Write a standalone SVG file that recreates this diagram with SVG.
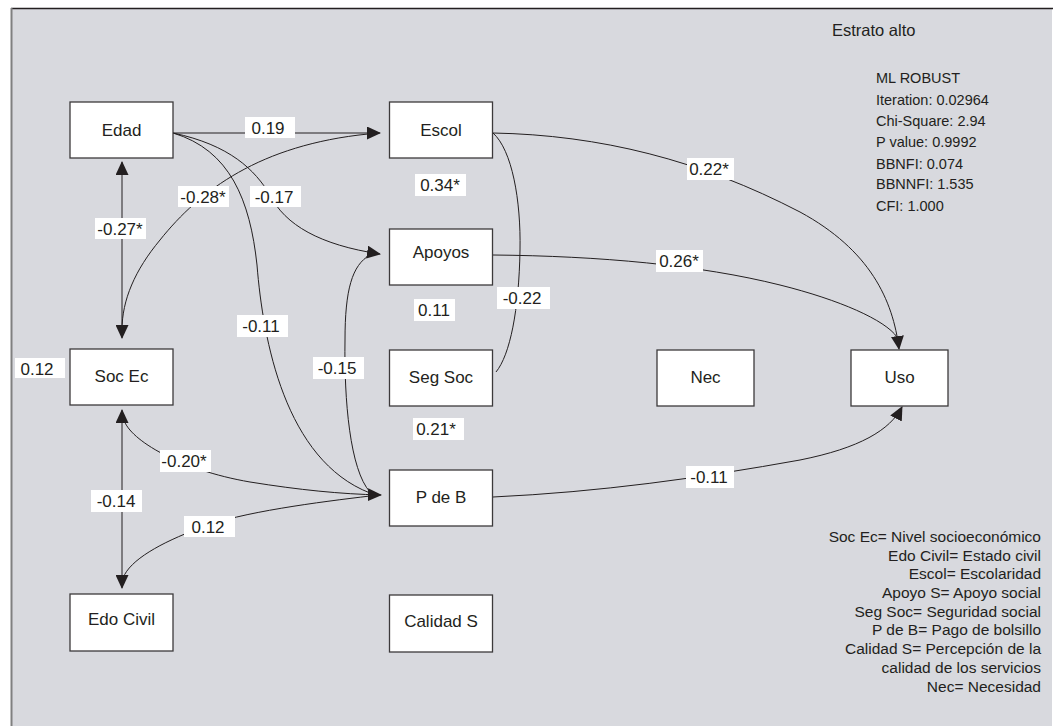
<svg xmlns="http://www.w3.org/2000/svg" width="1053" height="726" viewBox="0 0 1053 726">
<defs>
<marker id="ah" markerUnits="userSpaceOnUse" markerWidth="14" markerHeight="13" refX="13" refY="6.5" orient="auto-start-reverse" viewBox="0 0 14 13">
<path d="M0,0 L14,6.5 L0,13 Z" fill="#231f20"/>
</marker>
<style>
.bg{fill:#d8d9de}
.box rect{fill:#ffffff;stroke:#3c3a3b;stroke-width:1.3}
.box text{font-family:"Liberation Sans",Arial,sans-serif;font-size:17px;fill:#231f20;text-anchor:middle}
.conn path{fill:none;stroke:#231f20;stroke-width:1}
.lbl rect{fill:#ffffff}
.lbl text{font-family:"Liberation Sans",Arial,sans-serif;font-size:17px;fill:#231f20;text-anchor:middle}
.info{font-family:"Liberation Sans",Arial,sans-serif;fill:#231f20}
</style>
</defs>
<rect x="0" y="0" width="1053" height="726" fill="#ffffff"/>
<rect class="bg" x="11" y="8" width="1041" height="718"/>
<line x1="11" y1="8.5" x2="1053" y2="8.5" stroke="#231f20" stroke-width="1.5"/>
<line x1="11.5" y1="8" x2="11.5" y2="726" stroke="#808080" stroke-width="2"/>

<g id="connectors" class="conn">
<path d="M173,133 L380,133" marker-end="url(#ah)"/>
<path d="M122,330 C122,300 135,270 160,240 C200,190 260,145 368,134"/>
<path d="M173,133 C230,145 255,170 270,195 C285,225 320,245 380,254" marker-end="url(#ah)"/>
<path d="M173,133 C230,150 250,200 257,265 C263,340 285,460 370,493"/>
<path d="M370,255 C352,265 345,290 345,340 C344,400 350,470 370,492"/>
<path d="M122,162 L122,338" marker-start="url(#ah)" marker-end="url(#ah)"/>
<path d="M122,410 L122,588" marker-start="url(#ah)" marker-end="url(#ah)"/>
<path d="M124,420 C130,440 180,470 250,482 C300,490 340,494 381,495" marker-end="url(#ah)"/>
<path d="M370,496 C320,502 240,512 200,528 C160,543 130,560 123,578"/>
<path d="M493,133 C600,135 700,160 800,212 C870,250 893,300 899,349" marker-end="url(#ah)"/>
<path d="M493,133 C512,150 521,200 520,250 C519,310 510,355 496,372"/>
<path d="M493,255 C600,256 700,265 780,285 C840,300 885,320 897,337"/>
<path d="M493,497 C600,492 700,478 800,460 C860,448 890,430 902,407" marker-end="url(#ah)"/>
</g>

<g id="node-edad" class="box"><rect x="70" y="102" width="103" height="56"/><text x="121.5" y="136">Edad</text></g>
<g id="node-escol" class="box"><rect x="389.5" y="102" width="103" height="56"/><text x="441" y="136">Escol</text></g>
<g id="node-apoyos" class="box"><rect x="389.5" y="229" width="103" height="56"/><text x="441" y="258">Apoyos</text></g>
<g id="node-segsoc" class="box"><rect x="389.5" y="350" width="103" height="56"/><text x="441" y="383">Seg Soc</text></g>
<g id="node-socec" class="box"><rect x="70" y="349" width="103" height="56"/><text x="121.5" y="382">Soc Ec</text></g>
<g id="node-pdeb" class="box"><rect x="389.5" y="470" width="103" height="56"/><text x="441" y="503">P de B</text></g>
<g id="node-edocivil" class="box"><rect x="70" y="594" width="103" height="57"/><text x="121.5" y="625">Edo Civil</text></g>
<g id="node-calidad" class="box"><rect x="389.5" y="595" width="103" height="57"/><text x="441" y="627">Calidad S</text></g>
<g id="node-nec" class="box"><rect x="657" y="350" width="97" height="56"/><text x="705.5" y="383">Nec</text></g>
<g id="node-uso" class="box"><rect x="851" y="350" width="97" height="56"/><text x="899.5" y="383">Uso</text></g>

<g id="labels" class="lbl">
<rect x="245" y="117" width="50" height="21"/><text x="268" y="134">0.19</text>
<rect x="178" y="186" width="51" height="21"/><text x="203" y="203">-0.28*</text>
<rect x="250" y="186" width="51" height="21"/><text x="274" y="203">-0.17</text>
<rect x="95" y="218" width="51" height="21"/><text x="120" y="235">-0.27*</text>
<rect x="415" y="174" width="51" height="22"/><text x="440" y="191">0.34*</text>
<rect x="414" y="299" width="41" height="22"/><text x="434" y="316">0.11</text>
<rect x="497" y="287" width="53" height="22"/><text x="522" y="304">-0.22</text>
<rect x="237" y="315" width="51" height="22"/><text x="261" y="332">-0.11</text>
<rect x="313" y="357" width="51" height="22"/><text x="337" y="374">-0.15</text>
<rect x="15" y="358" width="50" height="20"/><text x="37" y="375">0.12</text>
<rect x="413" y="418" width="51" height="22"/><text x="436" y="435">0.21*</text>
<rect x="160" y="450" width="51" height="22"/><text x="184" y="467">-0.20*</text>
<rect x="91" y="490" width="51" height="22"/><text x="116" y="507">-0.14</text>
<rect x="184" y="516" width="51" height="21"/><text x="208" y="533">0.12</text>
<rect x="687" y="158" width="47" height="22"/><text x="709" y="175">0.22*</text>
<rect x="656" y="250" width="47" height="22"/><text x="679" y="267">0.26*</text>
<rect x="686" y="466" width="48" height="22"/><text x="709" y="483">-0.11</text>
</g>

<text class="info" x="832" y="36" font-size="16.5">Estrato alto</text>
<g id="fit-stats" class="info" font-size="14.5">
<text x="876" y="83">ML ROBUST</text>
<text x="876" y="105">Iteration: 0.02964</text>
<text x="876" y="126">Chi-Square: 2.94</text>
<text x="876" y="147">P value: 0.9992</text>
<text x="876" y="169">BBNFI: 0.074</text>
<text x="876" y="189">BBNNFI: 1.535</text>
<text x="876" y="211">CFI: 1.000</text>
</g>
<g id="legend" class="info" font-size="15.5" text-anchor="end">
<text x="1041" y="542">Soc Ec= Nivel socioeconómico</text>
<text x="1041" y="561">Edo Civil= Estado civil</text>
<text x="1041" y="579">Escol= Escolaridad</text>
<text x="1041" y="598">Apoyo S= Apoyo social</text>
<text x="1041" y="617">Seg Soc= Seguridad social</text>
<text x="1041" y="635">P de B= Pago de bolsillo</text>
<text x="1041" y="654">Calidad S= Percepción de la</text>
<text x="1041" y="673">calidad de los servicios</text>
<text x="1041" y="692">Nec= Necesidad</text>
</g>
</svg>
